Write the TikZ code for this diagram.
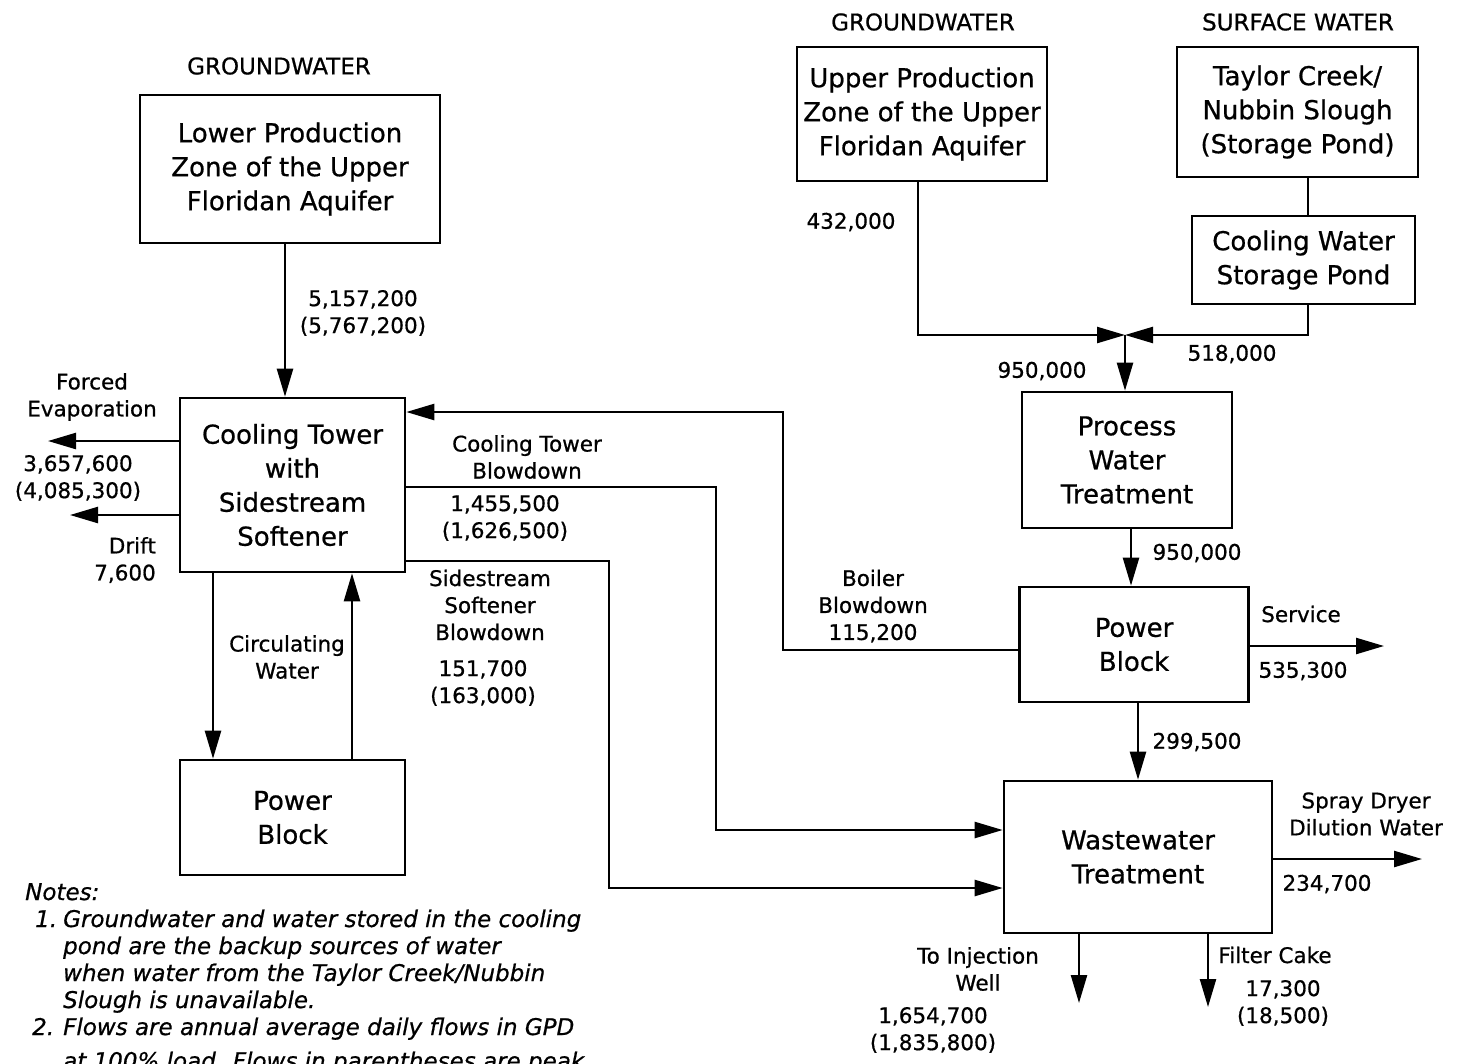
\documentclass[tikz,border=0pt]{standalone}
\usepackage{fontspec}
\setmainfont{DejaVu Sans}[FakeBold=0.7]
\usetikzlibrary{arrows.meta}
\begin{document}
\begin{tikzpicture}[x=1pt,y=-1pt,
  box/.style={draw, line width=2.6pt, align=center, inner sep=0pt,
    font=\fontsize{26}{34}\selectfont},
  pipe/.style={line width=2.4pt},
  flow/.style={line width=2.4pt, -{Triangle[length=28pt,width=16pt]}},
  lbl/.style={align=center, inner sep=0pt, font=\fontsize{21.5}{27}\selectfont},
  head/.style={inner sep=0pt, font=\fontsize{23}{26}\selectfont},
  note/.style={inner sep=0pt, anchor=base west, font=\fontsize{23}{26}\itshape\selectfont},
]
\useasboundingbox (0,0) rectangle (1463,1063);
\fill[white] (0,0) rectangle (1463,1063);
\clip (0,0) rectangle (1463,1063);

% ---------- source headings ----------
\node[head] (hgwl) at (279,66) {GROUNDWATER};
\node[head] (hgwr) at (923,22) {GROUNDWATER};
\node[head] (hsw)  at (1298,22) {SURFACE WATER};

% ---------- process boxes ----------
\node[box, minimum width=300pt, minimum height=148pt] (lpz) at (290,169)
  {Lower Production\\Zone of the Upper\\Floridan Aquifer};
\node[box, minimum width=225pt, minimum height=174pt] (ct) at (292.5,485)
  {Cooling Tower\\with\\Sidestream\\Softener};
\node[box, minimum width=225pt, minimum height=115pt] (pbl) at (292.5,817.5)
  {Power\\Block};
\node[box, minimum width=250pt, minimum height=134pt] (upz) at (922,114)
  {Upper Production\\Zone of the Upper\\Floridan Aquifer};
\node[box, minimum width=241pt, minimum height=130pt] (tcn) at (1297.5,112)
  {Taylor Creek/\\Nubbin Slough\\(Storage Pond)};
\node[box, minimum width=223pt, minimum height=88pt] (cws) at (1303.5,260)
  {Cooling Water\\Storage Pond};
\node[box, minimum width=210pt, minimum height=136pt] (pwt) at (1127,460)
  {Process\\Water\\Treatment};
\node[box, minimum width=229pt, minimum height=115pt] (pbr) at (1134,644.5)
  {Power\\Block};
\node[box, minimum width=268pt, minimum height=152pt] (wwt) at (1138,857)
  {Wastewater\\Treatment};

% ---------- bend points and free ends ----------
\coordinate (fe)  at (48,441);
\coordinate (dr)  at (70,515);
\coordinate (ctb) at (716,487);
\coordinate (ctw) at (716,830);
\coordinate (ss1) at (609,561);
\coordinate (ss2) at (609,888);
\coordinate (bb1) at (783,650);
\coordinate (bb2) at (783,412);
\coordinate (ug)  at (918,335);
\coordinate (sw)  at (1308,335);
\coordinate (j)   at (1125,335);
\coordinate (sv)  at (1384,646);
\coordinate (sp)  at (1422,859);
\coordinate (inj) at (1079,1003);
\coordinate (fc)  at (1208,1007);

% ---------- left plant ----------
\draw[flow] ([xshift=-5pt]lpz.south) -- ([xshift=-5pt]lpz.south |- ct.north);
\draw[flow] (ct.west |- fe) -- (fe);
\draw[flow] (ct.west |- dr) -- (dr);
\draw[flow] ([xshift=-79.5pt]ct.south) -- ([xshift=-79.5pt]pbl.north);
\draw[flow] ([xshift=59.5pt]pbl.north) -- ([xshift=59.5pt]ct.south);
\draw[flow] (ct.east |- ctb) -- (ctb) -- (ctw) -- (ctw -| wwt.west);
\draw[flow] (ct.east |- ss1) -- (ss1) -- (ss2) -- (ss2 -| wwt.west);
\draw[flow] (pbr.west |- bb1) -- (bb1) -- (bb2) -- (bb2 -| ct.east);

% ---------- right plant ----------
\draw[pipe] (tcn.south -| sw) -- (cws.north -| sw);
\draw[flow] (upz.south -| ug) -- (ug) -- (j);
\draw[flow] (cws.south -| sw) -- (sw) -- (j);
\draw[flow] (j) -- (j |- pwt.north);
\draw[flow] ([xshift=4pt]pwt.south) -- ([xshift=4pt]pwt.south |- pbr.north);
\draw[flow] (pbr.east |- sv) -- (sv);
\draw[flow] ([xshift=4pt]pbr.south) -- ([xshift=4pt]pbr.south |- wwt.north);
\draw[flow] (wwt.east |- sp) -- (sp);
\draw[flow] (wwt.south -| inj) -- (inj);
\draw[flow] (wwt.south -| fc) -- (fc);

% ---------- flow labels ----------
\node[lbl] (l1)  at (363,313) {5,157,200\\(5,767,200)};
\node[lbl] (l2)  at (92,397) {Forced\\Evaporation};
\node[lbl] (l3)  at (78,478) {3,657,600\\(4,085,300)};
\node[lbl, align=right, anchor=east] (l4) at (156,560) {Drift\\7,600};
\node[lbl] (l5)  at (287,657) {Circulating\\Water};
\node[lbl] (l6)  at (527,457) {Cooling Tower\\Blowdown};
\node[lbl] (l7)  at (505,518) {1,455,500\\(1,626,500)};
\node[lbl] (l8)  at (490,605) {Sidestream\\Softener\\Blowdown};
\node[lbl] (l9)  at (483,683) {151,700\\(163,000)};
\node[lbl] (l10) at (873,606) {Boiler\\Blowdown\\115,200};
\node[lbl] (l11) at (851,222) {432,000};
\node[lbl] (l12) at (1042,371) {950,000};
\node[lbl] (l13) at (1232,354) {518,000};
\node[lbl] (l14) at (1197,553) {950,000};
\node[lbl] (l15) at (1301,614) {Service};
\node[lbl] (l16) at (1303,671) {535,300};
\node[lbl] (l17) at (1197,742) {299,500};
\node[lbl] (l18) at (1366,814) {Spray Dryer\\Dilution Water};
\node[lbl] (l19) at (1327,884) {234,700};
\node[lbl] (l20) at (978,969) {To Injection\\Well};
\node[lbl] (l21) at (933,1030) {1,654,700\\(1,835,800)};
\node[lbl] (l22) at (1275,955) {Filter Cake};
\node[lbl] (l23) at (1283,1003) {17,300\\(18,500)};

% ---------- notes ----------
\node[note] (nh) at (25,900) {Notes:};
\node[note] (n1) at (35,927) {1.};
\node[note] (n1a) at (63,927) {Groundwater and water stored in the cooling};
\node[note] (n1b) at (63,954) {pond are the backup sources of water};
\node[note] (n1c) at (63,981) {when water from the Taylor Creek/Nubbin};
\node[note] (n1d) at (63,1008) {Slough is unavailable.};
\node[note] (n2) at (32,1035) {2.};
\node[note] (n2a) at (63,1035) {Flows are annual average daily flows in GPD};
\node[note] (n2b) at (63,1069) {at 100\% load. Flows in parentheses are peak};
\end{tikzpicture}
\end{document}
